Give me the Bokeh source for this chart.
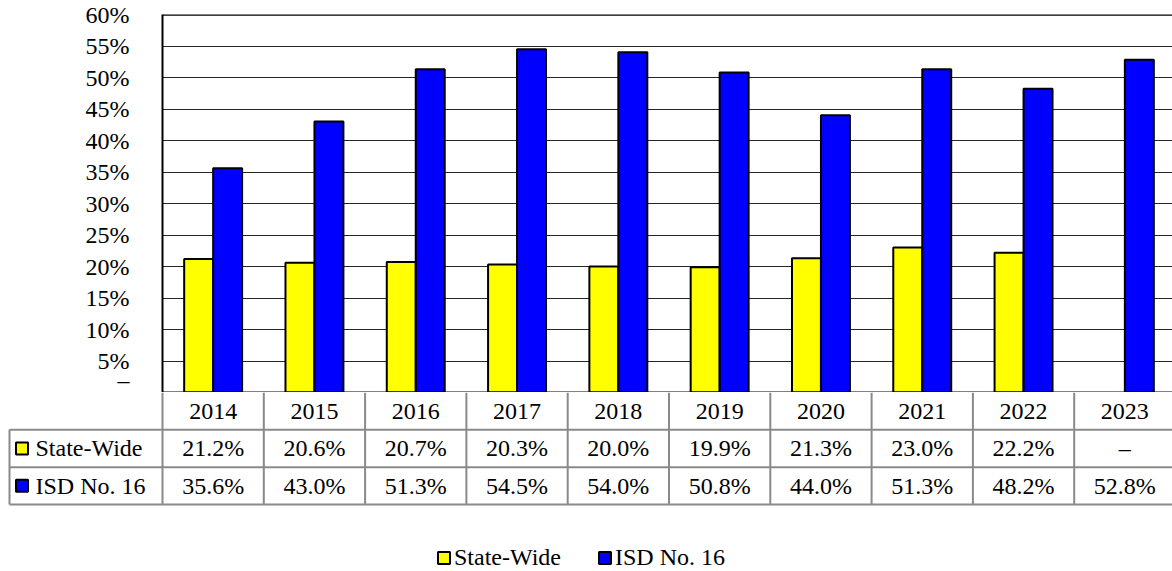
import math
import numpy as np
from bokeh.plotting import figure
from bokeh.models import (Range1d, ColumnDataSource, FixedTicker, CustomJSTickFormatter,
                          Span, Legend, LegendItem)
from bokeh.layouts import column
from bokeh.transform import dodge
from bokeh.core.properties import value
from bokeh.embed import file_html
from bokeh.resources import INLINE

# ---------------- data ----------------
years = ["2014", "2015", "2016", "2017", "2018", "2019", "2020", "2021", "2022", "2023"]
state_wide = [21.2, 20.6, 20.7, 20.3, 20.0, 19.9, 21.3, 23.0, 22.2, float("nan")]
isd_16 = [35.6, 43.0, 51.3, 54.5, 54.0, 50.8, 44.0, 51.3, 48.2, 52.8]
series_names = ["State-Wide", "ISD No. 16"]
series_colors = ["#FFFF00", "#0000FF"]
y_ticks = [0, 5, 10, 15, 20, 25, 30, 35, 40, 45, 50, 55, 60]

# ---------------- layout constants ----------------
FONT = "Liberation Serif, DejaVu Serif, serif"
FS = "24px"
FIG_W = 1172
FRAME_LEFT = 162
COL_PX = 101.3
ROW_PX = 37.33
P1_H = 392
P2_H = 179
x_end = (FIG_W - FRAME_LEFT) / COL_PX
x_start2 = -FRAME_LEFT / COL_PX

xs = [i + 0.5 for i in range(len(years))]
src = ColumnDataSource(dict(x=xs, state=np.array(state_wide), isd=np.array(isd_16)))

# ---------------- chart ----------------
p1 = figure(width=FIG_W, height=P1_H, x_range=Range1d(0, x_end), y_range=Range1d(0, 60),
            output_backend="svg", toolbar_location=None,
            min_border_left=FRAME_LEFT, min_border_right=0, min_border_top=14, min_border_bottom=0,
            x_axis_location=None)
p1.outline_line_color = None
p1.xgrid.visible = False
p1.ygrid.ticker = FixedTicker(ticks=y_ticks)
p1.ygrid.grid_line_color = "black"
p1.ygrid.grid_line_alpha = 0.85
p1.ygrid.grid_line_width = 1

ax = p1.yaxis[0]
ax.ticker = FixedTicker(ticks=y_ticks)
ax.formatter = CustomJSTickFormatter(code="return tick == 0 ? '\u2013' : tick + '%';")
ax.major_tick_line_color = None
ax.minor_tick_line_color = None
ax.axis_line_color = "black"
ax.axis_line_width = 2
ax.major_label_text_font = FONT
ax.major_label_text_font_size = FS
ax.major_label_text_color = "black"
ax.major_label_standoff = 27

bw = 0.286
p1.vbar(x=dodge("x", -0.143, range=p1.x_range), top="state", width=bw, source=src,
        fill_color=series_colors[0], line_color="black", line_width=2)
p1.vbar(x=dodge("x", 0.143, range=p1.x_range), top="isd", width=bw, source=src,
        fill_color=series_colors[1], line_color="black", line_width=2)

p1.add_layout(Span(location=60, dimension="width", line_color="black", line_width=2.5))
p1.add_layout(Span(location=0, dimension="width", line_color="black", line_width=2))

# ---------------- data table + legend ----------------
p2 = figure(width=FIG_W, height=P2_H, x_range=Range1d(x_start2, x_end),
            y_range=Range1d(-P2_H / ROW_PX, 0),
            output_backend="svg", toolbar_location=None,
            min_border_left=0, min_border_right=0, min_border_top=0, min_border_bottom=0,
            x_axis_location=None, y_axis_location=None)
p2.outline_line_color = None
p2.xgrid.visible = False
p2.ygrid.visible = False

for p in (p1, p2):
    try:
        p.frame_align = False
    except Exception:
        pass

GRID = "#8a8a8a"
ncol = len(years)
# vertical lines
p2.segment(x0=list(range(ncol + 1)), y0=[0] * (ncol + 1), x1=list(range(ncol + 1)), y1=[-3] * (ncol + 1),
           line_color=GRID, line_width=2)
left_edge = x_start2 + 9.0 / COL_PX
p2.segment(x0=[left_edge], y0=[-1], x1=[left_edge], y1=[-3], line_color=GRID, line_width=2)
# horizontal lines
p2.segment(x0=[left_edge] * 3, y0=[-1, -2, -3], x1=[x_end + 1] * 3, y1=[-1, -2, -3],
           line_color=GRID, line_width=2)


def fmt(v):
    return "\u2013" if (v is None or (isinstance(v, float) and math.isnan(v))) else f"{v:.1f}%"


txt_kw = dict(text_font=value(FONT), text_font_size=value(FS), text_color="black",
              text_baseline="middle")
p2.text(x=xs, y=[-0.5] * ncol, text=years, text_align="center", **txt_kw)
p2.text(x=xs, y=[-1.5] * ncol, text=[fmt(v) for v in state_wide], text_align="center", **txt_kw)
p2.text(x=xs, y=[-2.5] * ncol, text=[fmt(v) for v in isd_16], text_align="center", **txt_kw)

sq_x = x_start2 + 21.5 / COL_PX
lbl_x = x_start2 + 35.0 / COL_PX
sq = p2.rect(x=[sq_x, sq_x], y=[-1.5, -2.5], width=12, height=12,
             width_units="screen", height_units="screen",
             fill_color=series_colors, line_color="black", line_width=2)
p2.text(x=[lbl_x, lbl_x], y=[-1.5, -2.5], text=series_names, text_align="left", **txt_kw)

legend = Legend(items=[LegendItem(label=series_names[0], renderers=[sq], index=0),
                       LegendItem(label=series_names[1], renderers=[sq], index=1)],
                location=(436, 0), orientation="horizontal",
                label_text_font=FONT, label_text_font_size=FS, label_text_color="black",
                glyph_width=15, glyph_height=15, label_standoff=3, spacing=36,
                padding=0, margin=0, border_line_color=None, background_fill_alpha=0)
p2.add_layout(legend, "center")

layout = column(p1, p2, spacing=0)
open("out.html", "w").write(file_html(layout, INLINE))
